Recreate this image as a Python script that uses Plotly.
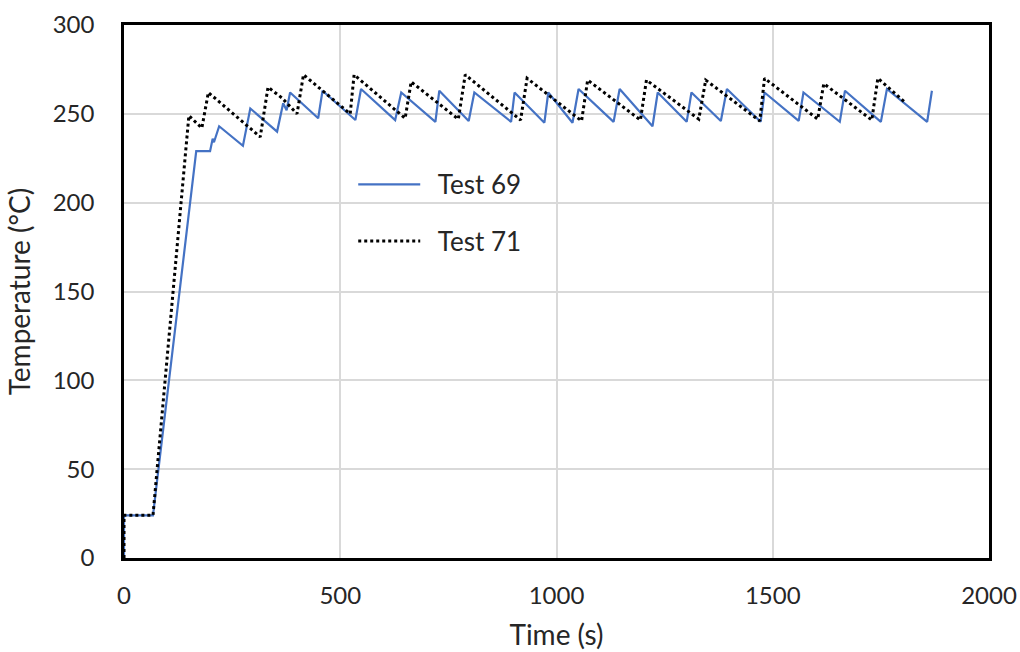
import plotly.graph_objects as go

# Test 69 (blue, solid)
t69 = [0, 0, 67, 167, 199, 205, 208, 214, 220, 275, 292, 354, 368, 376, 384, 449, 459,
       535, 548, 627, 641, 720, 729, 797, 810, 895, 903, 972, 981, 1037, 1051,
       1132, 1146, 1222, 1234, 1301, 1312, 1380, 1394, 1472, 1481, 1560, 1571,
       1655, 1667, 1750, 1764, 1857, 1868]
T69 = [0, 24, 24, 229, 229, 236, 234, 238, 243, 232, 253, 240, 256, 252, 262, 247.5, 263,
       246.5, 264, 246.5, 262, 245.5, 263, 246, 262, 245.5, 262, 245, 262, 245, 264,
       245.5, 264, 243, 262, 245.5, 262, 246, 264, 245.5, 262, 246, 262,
       245.5, 263, 245.5, 264, 245.5, 263]

# Test 71 (black, dotted)
t71 = [0, 0, 67, 150, 180, 195, 315, 333, 365, 400, 415, 523, 532, 650, 664, 773, 789,
       917, 932, 1058, 1072, 1194, 1208, 1329, 1345, 1470, 1481, 1604, 1618, 1729, 1743, 1806]
T71 = [0, 24, 24, 249, 242, 262, 237, 265, 259, 250, 272, 250, 272, 247.5, 268, 247, 272,
       246.5, 270, 246, 269, 246.5, 269, 247, 269, 246, 270, 247, 267, 246.5, 270, 256.5]

names = ["Test 69", "Test 71"]

FONT = "Lato"
fig = go.Figure()
fig.add_trace(go.Scatter(x=t69, y=T69, mode="lines", name="\u00a0\u00a0" + names[0], legendgroup="a",
                         line=dict(color="#4472C4", width=2.2)))
fig.add_trace(go.Scatter(x=t71, y=T71, mode="lines", name="\u00a0\u00a0" + names[1], legendgroup="b",
                         line=dict(color="#000000", width=3, dash="dot")))

fig.update_layout(
    width=1020, height=652,
    margin=dict(l=124, r=31, t=25, b=94),
    paper_bgcolor="white", plot_bgcolor="white",
    font=dict(family=FONT, size=23, color="#262626"),
    showlegend=True,
    legend=dict(x=0.265, y=0.745, xanchor="left", yanchor="top",
                bgcolor="rgba(0,0,0,0)", borderwidth=0, itemwidth=62,
                traceorder="grouped", tracegroupgap=20,
                font=dict(family=FONT, size=26, color="#262626")),
    xaxis=dict(range=[0, 2000], tickvals=[0, 500, 1000, 1500, 2000],
               showgrid=True, gridcolor="#d9d9d9", gridwidth=2,
               showline=True, linecolor="black", linewidth=2.5, mirror=True,
               zeroline=False, ticks="", ticklabelstandoff=14, automargin=False,
               tickfont=dict(size=24),
               title=dict(text="Time (s)", standoff=18)),
    yaxis=dict(range=[0, 300], tickvals=[0, 50, 100, 150, 200, 250, 300],
               showgrid=True, gridcolor="#d9d9d9", gridwidth=2,
               showline=True, linecolor="black", linewidth=2.5, mirror=True,
               zeroline=False, ticks="", ticklabelstandoff=22, automargin=False,
               tickfont=dict(size=24),
               title=dict(text="Temperature (°C)", standoff=14)),
)
fig.write_html("out.html")
